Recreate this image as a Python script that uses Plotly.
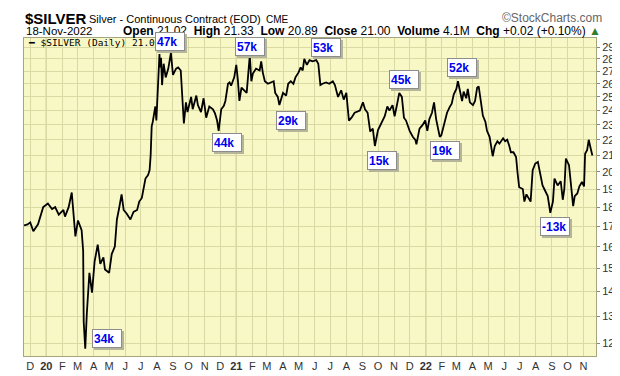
import math
import plotly.graph_objects as go

# ---- data ----
dates = ["2019-11-19","2019-11-26","2019-12-01","2019-12-07","2019-12-16","2019-12-23","2019-12-26",
"2020-01-04","2020-01-12","2020-01-18","2020-01-25","2020-02-03","2020-02-06","2020-02-13","2020-02-19",
"2020-02-26","2020-03-02","2020-03-09","2020-03-12","2020-03-13","2020-03-16","2020-03-19","2020-03-24",
"2020-03-29","2020-04-03","2020-04-09","2020-04-14","2020-04-20","2020-04-23","2020-05-01","2020-05-06",
"2020-05-12","2020-05-16","2020-05-20","2020-05-25","2020-05-29","2020-06-04","2020-06-11","2020-06-17",
"2020-06-24","2020-06-28","2020-07-03","2020-07-10","2020-07-15","2020-07-18","2020-07-20","2020-07-22",
"2020-07-24","2020-07-29","2020-07-31","2020-08-04","2020-08-06","2020-08-07","2020-08-09","2020-08-11",
"2020-08-14","2020-08-18","2020-08-23","2020-08-28","2020-09-01","2020-09-07","2020-09-11","2020-09-16",
"2020-09-20","2020-09-22","2020-09-26","2020-09-29","2020-10-06","2020-10-09","2020-10-16","2020-10-19",
"2020-10-25","2020-10-30","2020-11-04","2020-11-10","2020-11-17","2020-11-21","2020-11-25","2020-11-28",
"2020-12-03","2020-12-08","2020-12-11","2020-12-16","2020-12-19","2020-12-22","2020-12-28","2021-01-01",
"2021-01-04","2021-01-07","2021-01-11","2021-01-16","2021-01-21","2021-01-27","2021-01-30","2021-02-02",
"2021-02-08","2021-02-15","2021-02-18","2021-02-21","2021-02-25","2021-03-03","2021-03-08","2021-03-14",
"2021-03-17","2021-03-22","2021-03-25","2021-03-29","2021-04-01","2021-04-07","2021-04-11","2021-04-16",
"2021-04-21","2021-04-25","2021-05-01","2021-05-05","2021-05-09","2021-05-12","2021-05-17","2021-05-22",
"2021-05-28","2021-06-04","2021-06-08","2021-06-12","2021-06-16","2021-06-23","2021-06-29","2021-07-06",
"2021-07-10","2021-07-16","2021-07-22","2021-07-27","2021-08-01","2021-08-06","2021-08-11","2021-08-17",
"2021-08-27","2021-09-02","2021-09-06","2021-09-11","2021-09-16","2021-09-21","2021-09-25","2021-10-01",
"2021-10-07","2021-10-14","2021-10-19","2021-10-23","2021-10-29","2021-11-02","2021-11-07","2021-11-11",
"2021-11-16","2021-11-20","2021-11-24","2021-12-01","2021-12-07","2021-12-12","2021-12-14","2021-12-20",
"2021-12-26","2021-12-31","2022-01-04","2022-01-08","2022-01-13","2022-01-17","2022-01-21","2022-01-26",
"2022-01-28","2022-01-31","2022-02-05","2022-02-09","2022-02-11","2022-02-16","2022-02-20","2022-02-24",
"2022-03-01","2022-03-04","2022-03-07","2022-03-12","2022-03-15","2022-03-20","2022-03-23","2022-03-27",
"2022-04-02","2022-04-06","2022-04-10","2022-04-13","2022-04-17","2022-04-21","2022-04-26","2022-04-29",
"2022-05-04","2022-05-07","2022-05-10","2022-05-14","2022-05-19","2022-05-23","2022-05-30","2022-06-03",
"2022-06-07","2022-06-11","2022-06-14","2022-06-19","2022-06-24","2022-06-27","2022-06-30","2022-07-07",
"2022-07-10","2022-07-14","2022-07-18","2022-07-22","2022-07-26","2022-07-31","2022-08-05","2022-08-10",
"2022-08-14","2022-08-19","2022-08-24","2022-08-29","2022-09-03","2022-09-06","2022-09-12","2022-09-18",
"2022-09-22","2022-09-25","2022-09-28","2022-10-04","2022-10-07","2022-10-12","2022-10-15","2022-10-20",
"2022-10-24","2022-10-29","2022-11-02","2022-11-04","2022-11-08","2022-11-11","2022-11-14","2022-11-18"]

prices = [17.05,17.1,17.2,16.75,17.1,17.75,18.0,
18.2,17.9,18.0,17.6,17.85,17.5,18.0,18.8,
16.5,17.3,16.8,15.8,12.8,11.8,13.1,14.8,
13.95,15.3,16.1,15.2,15.5,14.95,14.8,15.65,
16.0,17.35,17.9,18.7,17.85,17.65,17.35,17.75,
17.85,18.3,18.5,19.6,19.8,20.1,21.0,22.9,
23.2,24.3,23.3,27.3,28.4,27.3,28.1,25.9,
27.6,26.5,27.2,28.5,26.7,27.2,27.3,27.05,
24.4,23.1,24.6,23.9,25.0,24.1,25.1,24.4,
23.9,24.9,23.5,24.3,24.1,23.8,23.3,22.6,
24.1,24.35,24.7,26.0,26.1,25.85,26.5,27.5,
26.3,24.7,25.7,25.5,25.3,28.3,26.2,26.8,
27.2,27.05,27.8,26.9,26.2,26.0,26.1,26.2,
25.3,25.0,24.4,24.9,25.3,25.1,26.0,26.2,
26.0,26.5,26.9,27.3,27.05,28.0,27.5,27.9,
27.8,27.9,27.6,25.9,26.0,26.1,26.0,26.2,
25.9,25.0,25.5,24.8,25.3,23.3,23.5,23.85,
24.0,24.6,24.1,23.85,22.55,22.75,21.6,22.65,
23.1,23.6,24.3,24.0,24.4,23.6,24.5,25.3,
25.0,23.5,23.3,22.6,22.2,22.0,21.7,22.75,
23.0,23.3,22.6,23.4,23.85,24.6,23.4,22.55,
22.2,22.3,23.0,23.6,23.85,24.25,24.5,25.2,
25.6,26.2,25.6,24.7,25.4,24.9,25.6,24.6,
24.4,24.7,25.7,25.8,24.7,23.65,23.2,22.6,
22.2,21.6,20.95,21.6,21.9,21.75,22.1,21.9,
22.0,21.6,21.2,21.2,20.9,19.9,19.1,19.0,
18.3,18.7,18.5,18.3,20.1,20.5,20.6,19.9,
19.2,18.9,18.6,17.7,18.3,19.6,19.2,19.45,
18.4,19.0,20.8,20.4,19.6,18.05,18.6,18.75,
19.15,19.4,19.15,21.1,21.35,22.0,21.55,21.0]

# box labels (text, date, price where the box sits)
label_texts = ["47k", "57k", "53k", "44k", "29k", "45k", "15k", "19k", "52k", "-13k", "34k"]
label_dates = ["2020-08-27", "2021-01-28", "2021-06-22", "2020-12-14", "2021-04-16", "2021-11-21",
               "2021-10-08", "2022-02-07", "2022-03-12", "2022-09-07", "2020-04-27"]
label_prices = [29.48, 29.07, 28.94, 21.81, 23.30, 26.36, 20.71, 21.32, 27.28, 16.97, 12.16]

month_starts = ["2019-12-01","2020-01-01","2020-02-01","2020-03-01","2020-04-01","2020-05-01","2020-06-01",
"2020-07-01","2020-08-01","2020-09-01","2020-10-01","2020-11-01","2020-12-01","2021-01-01","2021-02-01",
"2021-03-01","2021-04-01","2021-05-01","2021-06-01","2021-07-01","2021-08-01","2021-09-01","2021-10-01",
"2021-11-01","2021-12-01","2022-01-01","2022-02-01","2022-03-01","2022-04-01","2022-05-01","2022-06-01",
"2022-07-01","2022-08-01","2022-09-01","2022-10-01","2022-11-01"]
month_labels = ["D","<b>20</b>","F","M","A","M","J","J","A","S","O","N","D","<b>21</b>","F","M","A","M","J",
"J","A","S","O","N","D","<b>22</b>","F","M","A","M","J","J","A","S","O","N"]
year_starts = ["2020-01-01", "2021-01-01", "2022-01-01"]
y_ticks = list(range(12, 30))

# ---- figure ----
L, R, T, B = 16, 32, 30, 16
W, H = 620, 376
PW, PH = W - L - R, H - T - B

def px(xp):
    return (xp - L) / PW

def py(yp):
    return (H - B - yp) / PH

BG = "#f8f8c6"
GRID = "#d9d9a3"
YEARGRID = "#b9b980"
ARIAL = "Arial, Liberation Sans, sans-serif"

fig = go.Figure()
fig.add_trace(go.Scatter(x=dates, y=prices, mode="lines",
                         line=dict(color="black", width=1.8), hoverinfo="skip"))

shapes = []
for ys in year_starts:
    shapes.append(dict(type="line", xref="x", yref="paper", x0=ys, x1=ys, y0=0, y1=1,
                       line=dict(color=YEARGRID, width=1.2), layer="below"))

ann = []
# header
ann.append(dict(x=px(15), y=py(9.5), xref="paper", yref="paper", xanchor="left", yanchor="middle",
                text="<b>$SILVER</b>", showarrow=False,
                font=dict(family=ARIAL, size=15, color="black")))
ann.append(dict(x=px(79), y=py(10.5), xref="paper", yref="paper", xanchor="left", yanchor="middle",
                text="Silver - Continuous Contract (EOD)", showarrow=False,
                font=dict(family=ARIAL, size=11, color="black")))
ann.append(dict(x=px(256), y=py(11), xref="paper", yref="paper", xanchor="left", yanchor="middle",
                text="CME", showarrow=False, font=dict(family=ARIAL, size=10, color="black")))
ann.append(dict(x=px(596), y=py(9.5), xref="paper", yref="paper", xanchor="right", yanchor="middle",
                text="©StockCharts.com", showarrow=False, font=dict(family=ARIAL, size=12, color="#666666")))
ann.append(dict(x=px(16), y=py(23), xref="paper", yref="paper", xanchor="left", yanchor="middle",
                text="18-Nov-2022", showarrow=False, font=dict(family=ARIAL, size=11.5, color="black")))
ann.append(dict(x=px(595), y=py(23), xref="paper", yref="paper", xanchor="right", yanchor="middle",
                text="<b>Open</b> 21.02  <b>High</b> 21.33  <b>Low</b> 20.89  <b>Close</b> 21.00  "
                     "<b>Volume</b> 4.1M  <b>Chg</b> +0.02 (+0.10%) <span style='color:#2e7d32'>▲</span>",
                showarrow=False, font=dict(family=ARIAL, size=12, color="black")))
ann.append(dict(x=px(18), y=py(35), xref="paper", yref="paper", xanchor="left", yanchor="middle",
                text="━ $SILVER (Daily) 21.00", showarrow=False,
                font=dict(family="DejaVu Sans Mono, monospace", size=9.5, color="black")))

# labelled boxes (shadow first, then box); log axis -> annotation y in log10 units
for t, d, p in zip(label_texts, label_dates, label_prices):
    ann.append(dict(x=d, y=math.log10(p), xref="x", yref="y", yanchor="middle", xanchor="center",
                    yshift=-2, xshift=2, text=" ", showarrow=False, width=26, height=15,
                    borderpad=1, borderwidth=1, bgcolor="#b5b59a", bordercolor="#b5b59a",
                    font=dict(size=11)))
    ann.append(dict(x=d, y=math.log10(p), xref="x", yref="y", yanchor="middle", xanchor="center",
                    text="<b>" + t + "</b>", showarrow=False, width=26, height=15, borderpad=1,
                    borderwidth=1, align="left", bgcolor="white", bordercolor="#8c8c8c",
                    font=dict(family=ARIAL, size=12, color="#0000ee")))

fig.update_layout(
    width=W, height=H, margin=dict(l=L, r=R, t=T, b=B),
    paper_bgcolor="white", plot_bgcolor=BG, showlegend=False,
    shapes=shapes, annotations=ann,
    xaxis=dict(type="date", range=["2019-11-19", "2022-11-25"], tickvals=month_starts, ticktext=month_labels,
               showgrid=True, gridcolor=GRID, gridwidth=1, ticks="",
               tickfont=dict(family=ARIAL, size=11, color="#333333"),
               showline=True, linecolor="#a5a57e", linewidth=1, mirror=True, zeroline=False, fixedrange=True),
    yaxis=dict(type="log", side="right", range=[math.log10(11.55), math.log10(29.8)],
               tickvals=y_ticks, ticktext=[str(v) for v in y_ticks],
               showgrid=True, gridcolor=GRID, gridwidth=1, ticks="outside", ticklen=3, tickcolor="#888888",
               tickfont=dict(family=ARIAL, size=11, color="#333333"),
               showline=True, linecolor="#a5a57e", linewidth=1, mirror=True, zeroline=False, fixedrange=True),
)

fig.write_html("out.html")
